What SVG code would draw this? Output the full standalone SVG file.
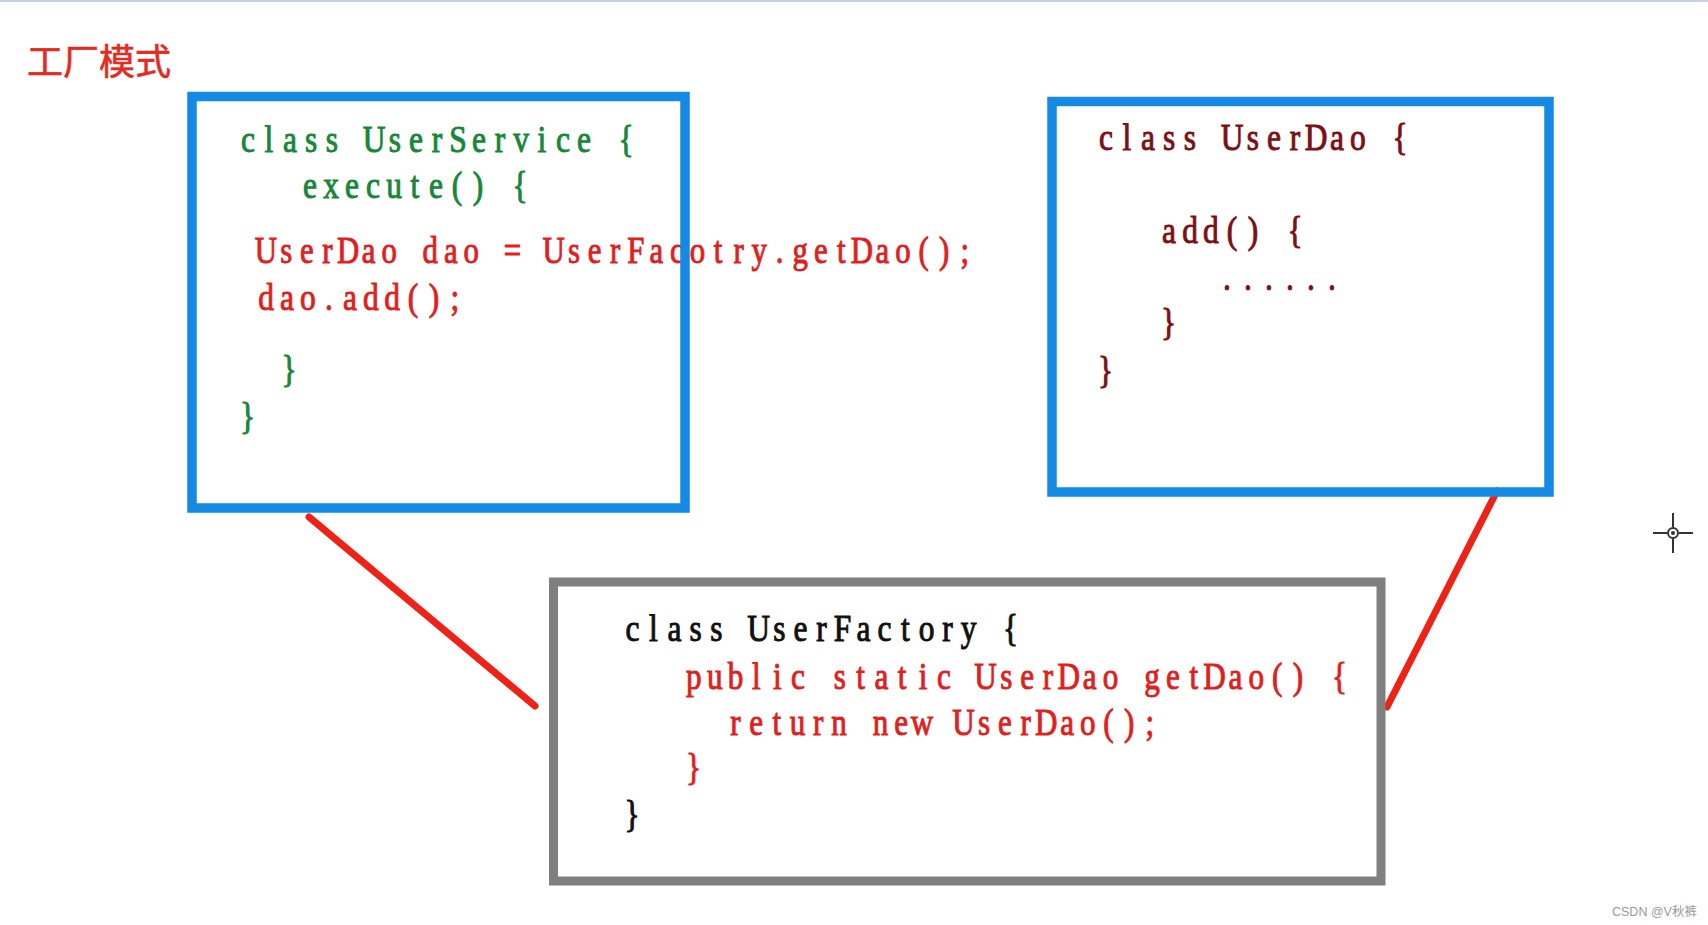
<svg xmlns="http://www.w3.org/2000/svg" width="1708" height="925" viewBox="0 0 1708 925">
  <style>
    .code { font-family: "Liberation Serif", "DejaVu Serif", serif; font-size: 37px; text-anchor: middle; stroke-width: 1px; }
    .green { fill: #17873a; stroke: #17873a; }
    .red { fill: #e01f1f; stroke: #e01f1f; }
    .dred { fill: #7d0f17; stroke: #7d0f17; }
    .black { fill: #111111; stroke: #111111; }
    .bluebox { fill: none; stroke: #148ae4; stroke-width: 9.5; }
    .graybox { fill: none; stroke: #7f7f7f; stroke-width: 9; }
    .link { stroke: #ef2218; stroke-width: 7; stroke-linecap: round; fill: none; }
  </style>
  <rect x="0" y="0" width="1708" height="925" fill="#ffffff"/>
  <rect x="0" y="0" width="1708" height="2" fill="#c8cff0"/>

  <g id="title">
    <text x="27" y="75" font-family="'Noto Sans CJK SC', sans-serif" font-size="36" fill="#e52a1f" stroke="#e52a1f" stroke-width="0.6">工厂模式</text>
  </g>

  <g id="connectors">
    <line class="link" x1="309" y1="517" x2="535" y2="706"/>
    <line class="link" x1="1497" y1="491" x2="1387" y2="707"/>
  </g>

  <g id="node-userservice">
    <text class="code green" transform="translate(237.5 0) scale(0.85 1)" y="152" x="12.35 37.06 61.76 86.47 111.18 135.88 160.59 185.29 210 234.71 259.41 284.12 308.82 333.53 358.24 382.94 407.65 432.35 457.06 481.76 506.47 531.18 555.88 580.59 605.29 630 654.71 679.41 704.12 728.82 753.53 778.24 802.94 827.65 852.35">class UserService {</text>
    <text class="code green" transform="translate(299.5 0) scale(0.85 1)" y="198" x="12.35 37.06 61.76 86.47 111.18 135.88 160.59 185.29 210 234.71 259.41 284.12 308.82 333.53 358.24 382.94 407.65 432.35 457.06 481.76 506.47 531.18 555.88 580.59 605.29 630 654.71 679.41 704.12 728.82 753.53 778.24 802.94 827.65 852.35">execute() {</text>
    <text class="code red" transform="translate(255.5 0) scale(0.832 1)" y="263" x="12.35 37.06 61.76 86.47 111.18 135.88 160.59 185.29 210 234.71 259.41 284.12 308.82 333.53 358.24 382.94 407.65 432.35 457.06 481.76 506.47 531.18 555.88 580.59 605.29 630 654.71 679.41 704.12 728.82 753.53 778.24 802.94 827.65 852.35">UserDao dao = UserFacotry.getDao();</text>
    <text class="code red" transform="translate(255.5 0) scale(0.85 1)" y="310" x="12.35 37.06 61.76 86.47 111.18 135.88 160.59 185.29 210 234.71 259.41 284.12 308.82 333.53 358.24 382.94 407.65 432.35 457.06 481.76 506.47 531.18 555.88 580.59 605.29 630 654.71 679.41 704.12 728.82 753.53 778.24 802.94 827.65 852.35">dao.add();</text>
    <text class="code green" transform="translate(278.5 0) scale(0.85 1)" y="382" x="12.35">}</text>
    <text class="code green" transform="translate(237 0) scale(0.85 1)" y="429" x="12.35">}</text>
    <rect class="bluebox" x="192" y="96.5" width="493" height="411.5"/>
  </g>

  <g id="node-userdao">
    <rect class="bluebox" x="1052" y="101.5" width="497" height="390.5"/>
    <text class="code dred" transform="translate(1095.5 0) scale(0.85 1)" y="150" x="12.35 37.06 61.76 86.47 111.18 135.88 160.59 185.29 210 234.71 259.41 284.12 308.82 333.53 358.24 382.94 407.65 432.35 457.06 481.76 506.47 531.18 555.88 580.59 605.29 630 654.71 679.41 704.12 728.82 753.53 778.24 802.94 827.65 852.35">class UserDao {</text>
    <text class="code dred" transform="translate(1158.5 0) scale(0.85 1)" y="243" x="12.35 37.06 61.76 86.47 111.18 135.88 160.59 185.29 210 234.71 259.41 284.12 308.82 333.53 358.24 382.94 407.65 432.35 457.06 481.76 506.47 531.18 555.88 580.59 605.29 630 654.71 679.41 704.12 728.82 753.53 778.24 802.94 827.65 852.35">add() {</text>
    <text class="code dred" transform="translate(1216.5 0) scale(0.85 1)" y="290" x="12.35 37.06 61.76 86.47 111.18 135.88 160.59 185.29 210 234.71 259.41 284.12 308.82 333.53 358.24 382.94 407.65 432.35 457.06 481.76 506.47 531.18 555.88 580.59 605.29 630 654.71 679.41 704.12 728.82 753.53 778.24 802.94 827.65 852.35">......</text>
    <text class="code dred" transform="translate(1158 0) scale(0.85 1)" y="335" x="12.35">}</text>
    <text class="code dred" transform="translate(1095 0) scale(0.85 1)" y="383" x="12.35">}</text>
  </g>

  <g id="node-userfactory">
    <rect class="graybox" x="553.5" y="582" width="827.5" height="299"/>
    <text class="code black" transform="translate(622 0) scale(0.85 1)" y="641" x="12.35 37.06 61.76 86.47 111.18 135.88 160.59 185.29 210 234.71 259.41 284.12 308.82 333.53 358.24 382.94 407.65 432.35 457.06 481.76 506.47 531.18 555.88 580.59 605.29 630 654.71 679.41 704.12 728.82 753.53 778.24 802.94 827.65 852.35">class UserFactory {</text>
    <text class="code red" transform="translate(683.5 0) scale(0.843 1)" y="689" x="12.35 37.06 61.76 86.47 111.18 135.88 160.59 185.29 210 234.71 259.41 284.12 308.82 333.53 358.24 382.94 407.65 432.35 457.06 481.76 506.47 531.18 555.88 580.59 605.29 630 654.71 679.41 704.12 728.82 753.53 778.24 802.94 827.65 852.35">public static UserDao getDao() {</text>
    <text class="code red" transform="translate(725 0) scale(0.839 1)" y="735" x="12.35 37.06 61.76 86.47 111.18 135.88 160.59 185.29 210 234.71 259.41 284.12 308.82 333.53 358.24 382.94 407.65 432.35 457.06 481.76 506.47 531.18 555.88 580.59 605.29 630 654.71 679.41 704.12 728.82 753.53 778.24 802.94 827.65 852.35">return new UserDao();</text>
    <text class="code red" transform="translate(683 0) scale(0.85 1)" y="780" x="12.35">}</text>
    <text class="code black" transform="translate(621.5 0) scale(0.85 1)" y="827" x="12.35">}</text>
  </g>

  <g id="cursor" stroke="#333333" stroke-width="2" fill="none">
    <line x1="1653" y1="533" x2="1667" y2="533"/>
    <line x1="1679" y1="533" x2="1693" y2="533"/>
    <line x1="1673" y1="513" x2="1673" y2="527"/>
    <line x1="1673" y1="539" x2="1673" y2="553"/>
    <circle cx="1673" cy="533" r="5"/>
    <circle cx="1673" cy="533" r="1" fill="#333333"/>
  </g>

  <g id="watermark">
    <text x="1612" y="916" font-family="'Liberation Sans', 'Noto Sans CJK SC', sans-serif" font-size="12.5" fill="#9a9a9a">CSDN @V秋裤</text>
  </g>
</svg>
